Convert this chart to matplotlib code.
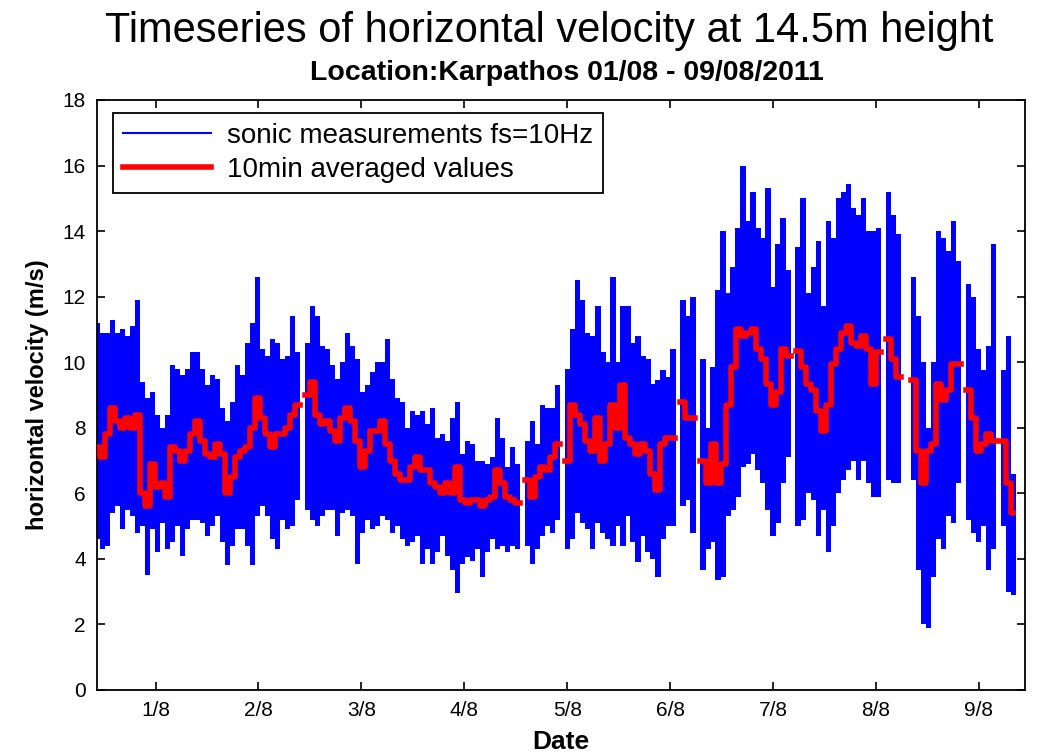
import numpy as np
import pandas as pd
import matplotlib
matplotlib.use('Agg')
import matplotlib.pyplot as plt
import matplotlib.dates as mdates
from matplotlib.lines import Line2D
from matplotlib.ticker import FuncFormatter

nan = np.nan

# sonic anemometer at 14.5m, one block every 70 min starting 31/07 10:29
t0 = '2011-07-31 10:29'
dt = '70min'

# max of the 10Hz signal in each block (m/s), nan = no data
v_max = [11.2, 10.9, 10.9, 11.3, 10.9, 11.0, 10.8, 11.1, 11.9, 9.4,
         8.9, 9.1, 8.4, 8.0, 8.4, 9.9, 9.8, 9.6, 9.8, 10.3,
         10.3, 9.8, 9.3, 9.6, 9.5, 8.6, 8.2, 8.8, 9.9, 9.6,
         10.6, 11.2, 12.6, 10.4, 10.2, 10.7, 10.6, 10.1, 10.2, 11.4,
         10.3, nan, 10.6, 11.7, 11.4, 10.5, 10.4,
         9.9, 9.5, 10.0, 10.9, 10.5, 10.1, 9.1, 9.3, 9.7, 10.0,
         10.0, 10.7, 9.5, 8.9, 8.8, 8.0, 8.5, 8.4, 8.5, 8.1,
         8.6, 7.7, 7.8, 7.6, 8.3, 8.8, 7.2, 7.6, 7.5, 7.0,
         7.0, 6.9, 7.1, 8.3, 7.7, 6.8, 7.4, 6.9, nan, 7.6,
         8.2, 7.5, 8.7, 8.6, 8.6, 9.3,
         nan, 9.8, 11.0, 12.5, 11.9, 10.9, 10.8, 11.7, 10.3, 10.0,
         12.6, 10.0, 11.7, 11.7, 10.6, 10.8, 10.2, 10.1, 9.35, 9.45,
         9.75, 9.55, 10.4, nan, 11.9, 11.4, 12.0, nan, 10.1, 8.0,
         9.85, 12.2, 14.0, 12.1, 12.9, 14.1, 16.0, 14.3, 15.2, 14.1,
         13.8, 15.3, 12.3, 13.6, 14.4, 12.8,
         nan, 13.5, 15.0, 12.1, 12.9, 13.7, 11.7, 14.3, 13.8, 15.0,
         15.2, 15.45, 14.7, 14.5, 15.0, 14.0, 14.0, 14.1, nan, 15.2,
         14.5, 13.9, nan, nan, 12.6, 11.4, 10.0, 8.0, 10.0, 14.0,
         13.8, 13.4, 14.3, 13.1, nan, 12.4, 12.0, 10.4, 9.75, 10.5,
         13.6, nan, 9.75, 10.8, 6.6]

# min of the 10Hz signal in each block (m/s)
v_min = [4.6, 4.3, 4.4, 5.4, 5.6, 4.9, 5.5, 5.3, 4.8, 5.0,
         3.5, 4.9, 4.2, 5.1, 4.3, 4.5, 5.0, 4.1, 4.9, 5.2,
         5.2, 5.1, 4.7, 5.0, 5.3, 4.5, 3.8, 4.4, 4.9, 4.9,
         4.4, 3.8, 5.3, 5.6, 5.3, 4.6, 4.3, 5.2, 4.9, 5.0,
         5.8, nan, 5.5, 5.2, 5.0, 5.3, 5.5,
         5.5, 4.7, 5.4, 5.5, 5.3, 3.85, 4.8, 5.2, 4.9, 5.0,
         5.3, 5.2, 4.8, 5.0, 4.6, 4.4, 4.5, 4.7, 3.85, 4.3,
         3.85, 4.2, 4.7, 4.1, 3.65, 2.95, 3.85, 4.05, 3.95, 4.3,
         3.45, 4.2, 4.6, 4.3, 4.4, 4.2, 4.4, 4.3, nan, 4.4,
         3.85, 4.3, 4.7, 5.0, 4.8, 5.2,
         nan, 4.3, 4.6, 5.4, 5.1, 4.9, 4.3, 5.1, 4.8, 4.6,
         4.4, 5.0, 4.4, 5.3, 4.5, 3.9, 4.7, 4.2, 4.0, 3.45,
         4.6, 5.0, 5.0, nan, 5.6, 5.8, 4.8, nan, 3.65, 4.3,
         4.5, 3.35, 3.45, 5.3, 5.5, 5.9, 6.8, 6.9, 7.2, 6.7,
         6.3, 5.5, 4.7, 5.1, 6.3, 7.1,
         nan, 5.0, 5.2, 6.0, 5.8, 4.7, 5.5, 4.2, 5.0, 6.0,
         6.4, 6.7, 7.0, 6.4, 7.0, 6.3, 5.9, 5.9, nan, 6.4,
         6.3, 6.3, nan, nan, 6.4, 3.65, 2.0, 1.9, 3.45, 4.6,
         4.3, 5.3, 5.1, 6.3, nan, 5.2, 4.8, 4.5, 5.0, 3.65,
         4.3, nan, 5.0, 3.0, 2.9]

# 10 min averaged velocity (m/s)
v_avg = [7.4, 7.1, 7.8, 8.6, 8.2, 8.0, 8.3, 8.0, 8.4, 6.0,
         5.6, 6.9, 6.2, 6.3, 5.9, 7.4, 7.3, 7.0, 7.3, 7.8,
         8.2, 7.6, 7.2, 7.1, 7.5, 7.2, 6.0, 6.5, 7.1, 7.3,
         7.4, 8.0, 8.9, 8.3, 7.8, 7.4, 7.8, 7.8, 8.0, 8.4,
         8.7, nan, 9.0, 9.4, 8.4, 8.1, 8.2,
         7.9, 7.6, 8.3, 8.6, 8.2, 7.6, 6.8, 7.3, 7.9, 7.9,
         8.2, 7.5, 7.0, 6.6, 6.4, 6.4, 6.8, 7.1, 6.7, 6.7,
         6.3, 6.2, 6.0, 6.3, 6.0, 6.8, 5.8, 5.7, 5.8, 5.8,
         5.6, 5.8, 5.9, 6.7, 6.3, 5.9, 5.8, 5.7, nan, 6.4,
         5.9, 6.5, 6.8, 6.7, 7.1, 7.5,
         nan, 7.0, 8.7, 8.4, 8.1, 7.6, 7.3, 8.3, 7.0, 7.5,
         8.7, 8.0, 9.3, 7.7, 7.5, 7.2, 7.5, 7.3, 6.6, 6.1,
         7.5, 7.7, 7.7, nan, 8.8, 8.3, 8.3, nan, 7.0, 6.3,
         7.5, 6.3, 6.9, 8.7, 9.85, 11.0, 10.8, 10.9, 11.0, 10.4,
         10.1, 9.35, 8.7, 9.1, 10.4, 10.2,
         nan, 10.35, 9.85, 9.35, 9.15, 8.5, 7.9, 8.7, 9.95, 10.4,
         10.9, 11.1, 10.6, 10.5, 10.8, 10.4, 9.35, 10.3, nan, 10.7,
         10.1, 9.55, nan, nan, 9.45, 7.3, 6.3, 7.3, 7.5, 9.35,
         8.85, 9.15, 9.95, 9.95, nan, 9.15, 8.3, 7.3, 7.5, 7.8,
         7.6, nan, 7.6, 6.3, 5.4]

t = pd.date_range(t0, periods=len(v_avg), freq=dt)
v_max = np.array(v_max)
v_min = np.array(v_min)
v_avg = np.array(v_avg)

plt.rcParams['font.family'] = ['Liberation Sans', 'DejaVu Sans']

fig = plt.figure(figsize=(10.38, 7.54), dpi=100)
ax = fig.add_axes([0.0935, 0.0849, 0.894, 0.7825])

# blue band = spread of the raw signal, red = 10min mean
w = 70 / 1440.
ax.bar(t, v_max - v_min, bottom=v_min, width=w * 1.03, color='b', linewidth=0, zorder=2)
ax.plot(t, v_avg, color='r', lw=4, drawstyle='steps-mid', zorder=3)

ax.set_xlim(pd.Timestamp('2011-07-31 10:22'), pd.Timestamp('2011-08-09 10:44'))
ax.set_ylim(0, 18)
ax.set_yticks(np.arange(0, 19, 2))
ax.xaxis.set_major_locator(mdates.DayLocator())
ax.xaxis.set_major_formatter(FuncFormatter(
    lambda x, pos: '%d/%d' % (mdates.num2date(x).day, mdates.num2date(x).month)))
ax.tick_params(direction='in', top=True, right=True, length=6, width=1.2,
               labelsize=15, pad=8)
for s in ax.spines.values():
    s.set_linewidth(1.3)

ax.set_xlabel('Date', fontsize=19, fontweight='bold', labelpad=7)
ax.set_ylabel('horizontal velocity (m/s)', fontsize=17, fontweight='bold', labelpad=10)

fig.text(0.529, 0.959, 'Timeseries of horizontal velocity at 14.5m height',
         ha='center', va='center', fontsize=30)
fig.text(0.546, 0.903, 'Location:Karpathos 01/08 - 09/08/2011',
         ha='center', va='center', fontsize=20.5, fontweight='bold')

handles = [Line2D([], [], color='b', lw=1.5), Line2D([], [], color='r', lw=4)]
leg = ax.legend(handles, ['sonic measurements fs=10Hz', '10min averaged values'],
                loc='upper left', bbox_to_anchor=(0.017, 0.978), borderaxespad=0,
                fontsize=20, handlelength=3.2, handletextpad=0.55, fancybox=False,
                framealpha=1, edgecolor='k', borderpad=0.35, labelspacing=0.3)
leg.get_frame().set_linewidth(1.3)

fig.savefig('out.png', dpi=100)
